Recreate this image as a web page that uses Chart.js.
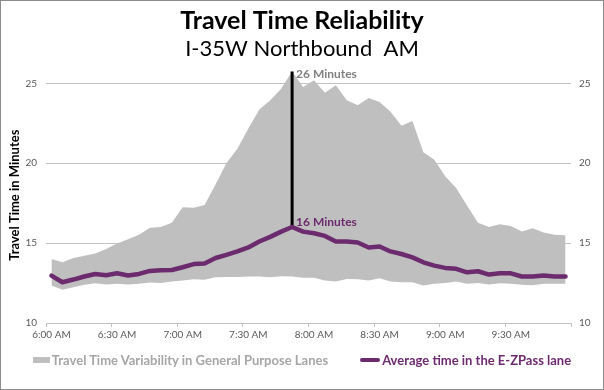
<!DOCTYPE html>
<html><head><meta charset="utf-8">
<script src="https://cdn.jsdelivr.net/npm/chart.js@4.4.1/dist/chart.umd.min.js"></script>
<style>
html,body{margin:0;padding:0;background:#fff;}
#wrap{position:relative;width:604px;height:390px;overflow:hidden;}
canvas{display:block;position:absolute;left:0;top:0;}
#legend{position:absolute;left:0;top:352px;width:604px;display:flex;justify-content:center;align-items:center;gap:32px;font-family:Lato,sans-serif;font-weight:bold;font-size:13px;white-space:pre;}
.item{display:flex;align-items:center;}
.sw{display:inline-block;margin-right:2px;}
</style></head><body>
<div id="wrap"><canvas id="c" width="604" height="390"></canvas><div id="legend"></div></div>
<script>
// ---- data ----
const times = ['6:00 AM','6:05 AM','6:10 AM','6:15 AM','6:20 AM','6:25 AM','6:30 AM','6:35 AM','6:40 AM','6:45 AM','6:50 AM','6:55 AM',
  '7:00 AM','7:05 AM','7:10 AM','7:15 AM','7:20 AM','7:25 AM','7:30 AM','7:35 AM','7:40 AM','7:45 AM','7:50 AM','7:55 AM',
  '8:00 AM','8:05 AM','8:10 AM','8:15 AM','8:20 AM','8:25 AM','8:30 AM','8:35 AM','8:40 AM','8:45 AM','8:50 AM','8:55 AM',
  '9:00 AM','9:05 AM','9:10 AM','9:15 AM','9:20 AM','9:25 AM','9:30 AM','9:35 AM','9:40 AM','9:45 AM','9:50 AM','9:55 AM'];
const gpUpper = [14.00,13.80,14.07,14.21,14.35,14.63,14.98,15.25,15.52,15.97,16.01,16.28,17.25,17.21,17.38,18.67,20.01,20.90,22.18,23.36,23.94,24.66,25.75,24.77,
  25.19,24.42,24.88,23.94,23.63,24.09,23.84,23.22,22.35,22.64,20.69,20.22,19.18,18.45,17.34,16.28,16.01,16.18,16.07,15.72,15.93,15.66,15.52,15.50];
const gpLower = [12.35,12.08,12.24,12.39,12.49,12.41,12.45,12.41,12.45,12.53,12.51,12.60,12.66,12.74,12.70,12.86,12.88,12.88,12.91,12.91,12.86,12.93,12.91,12.83,
  12.83,12.66,12.60,12.76,12.74,12.66,12.80,12.60,12.55,12.55,12.35,12.45,12.51,12.60,12.45,12.51,12.41,12.49,12.45,12.39,12.37,12.45,12.45,12.45];
const ezpass = [12.97,12.55,12.72,12.91,13.07,12.99,13.11,12.97,13.07,13.26,13.30,13.32,13.49,13.69,13.73,14.07,14.27,14.48,14.73,15.10,15.39,15.72,16.01,15.72,
  15.62,15.45,15.10,15.10,15.04,14.73,14.79,14.48,14.32,14.11,13.80,13.59,13.45,13.39,13.17,13.24,13.03,13.11,13.11,12.91,12.91,12.97,12.91,12.91];
const yTicks = [10, 15, 20, 25];
const seriesNames = ['Travel Time Variability in General Purpose Lanes', 'Average time in the E-ZPass lane'];
const titleText = 'Travel Time Reliability';
const subtitleText = 'I-35W Northbound  AM';
const yTitle = 'Travel Time in Minutes';

// ---- styles ----
const PURPLE = '#6D2B6F', GRAY = '#BFBFBF', AXIS = '#C3C3C3', TXT = '#595959';
const peakIdx = gpUpper.indexOf(Math.max(...gpUpper));

const callout = {
  id: 'callout',
  afterDatasetsDraw(chart) {
    const {ctx, scales: {x, y}} = chart;
    const px = x.getPixelForValue(peakIdx);
    ctx.save();
    ctx.font = 'bold 12px Lato';
    ctx.textBaseline = 'middle';
    ctx.textAlign = 'left';
    ctx.fillStyle = '#808080';
    ctx.fillText(Math.round(gpUpper[peakIdx]) + ' Minutes', px + 4, y.getPixelForValue(gpUpper[peakIdx]) + 3);
    ctx.fillStyle = PURPLE;
    ctx.fillText(Math.round(ezpass[peakIdx]) + ' Minutes', px + 4, y.getPixelForValue(ezpass[peakIdx]) - 5);
    ctx.restore();
  },
  afterDraw(chart) {
    const ctx = chart.ctx;
    ctx.save();
    ctx.strokeStyle = '#8C8C8C';
    ctx.lineWidth = 1;
    ctx.strokeRect(0.5, 0.5, chart.width - 1, chart.height - 1);
    ctx.restore();
  }
};

const tickFont = {family: 'Lato', size: 10};
const chart = new Chart(document.getElementById('c'), {
  type: 'line',
  data: {
    labels: times,
    datasets: [
      {label: seriesNames[1], data: ezpass, borderColor: PURPLE, backgroundColor: PURPLE, borderWidth: 4.5, pointRadius: 0, fill: false, tension: 0, borderJoinStyle: 'round', borderCapStyle: 'round'},
      {label: 'peak', data: [{x: times[peakIdx], y: ezpass[peakIdx]}, {x: times[peakIdx], y: gpUpper[peakIdx]}], borderColor: '#000', borderWidth: 3, pointRadius: 0, fill: false},
      {label: seriesNames[0], data: gpUpper, borderWidth: 0, borderColor: GRAY, backgroundColor: GRAY, pointRadius: 0, fill: '+1', tension: 0},
      {label: 'lower', data: gpLower, borderWidth: 0, borderColor: GRAY, backgroundColor: GRAY, pointRadius: 0, fill: false, tension: 0}
    ]
  },
  options: {
    responsive: false, animation: false, devicePixelRatio: 1,
    layout: {padding: {top: 0, bottom: 47, left: 0, right: 0}},
    plugins: {
      legend: {display: false},
      tooltip: {enabled: false},
      title: {display: true, text: titleText, color: '#000', font: {family: 'Lato', size: 25, weight: 'bold'}, padding: {top: 6, bottom: 0}},
      subtitle: {display: true, text: subtitleText, color: '#000', font: {family: 'Lato', size: 22, weight: 'normal'}, padding: {top: 0, bottom: 5}}
    },
    scales: {
      x: {
        offset: true,
        afterFit(s) { s.height = 20; },
        grid: {offset: true, drawOnChartArea: false, tickLength: 4,
          color: ctx => (ctx.type !== 'tick' || ctx.index % 6 === 0) ? AXIS : 'rgba(0,0,0,0)'},
        border: {color: AXIS},
        ticks: {autoSkip: false, maxRotation: 0, minRotation: 0, padding: 2, color: TXT, font: tickFont,
          callback: (v, i) => (i % 6 === 0 ? times[i] : '')}
      },
      y: {
        position: 'left', min: 10, max: 26,
        afterBuildTicks(s) { s.ticks = yTicks.map(v => ({value: v})); },
        afterFit(s) { s.width = 46; },
        grid: {color: AXIS, drawTicks: false},
        border: {display: false},
        ticks: {padding: 9, color: TXT, font: tickFont},
        title: {display: true, text: yTitle, color: '#000', font: {family: 'Lato', size: 13, weight: 'bold'}, padding: {top: 7, bottom: 0}}
      },
      y2: {
        position: 'right', min: 10, max: 26,
        afterBuildTicks(s) { s.ticks = yTicks.map(v => ({value: v})); },
        afterFit(s) { s.width = 33; },
        grid: {drawOnChartArea: false, drawTicks: false},
        border: {display: false},
        ticks: {padding: 8, color: TXT, font: tickFont}
      }
    }
  },
  plugins: [callout]
});

// HTML legend built from the datasets
const legend = document.getElementById('legend');
[{ds: chart.data.datasets[2], w: 17, h: 6, r: 0, txt: '#A6A6A6'},
 {ds: chart.data.datasets[0], w: 20, h: 4, r: 2, txt: PURPLE}].forEach(it => {
  const d = document.createElement('div'); d.className = 'item';
  const sw = document.createElement('span'); sw.className = 'sw';
  sw.style.width = it.w + 'px'; sw.style.height = it.h + 'px'; sw.style.background = it.ds.backgroundColor; sw.style.borderRadius = it.r + 'px';
  const t = document.createElement('span'); t.textContent = it.ds.label; t.style.color = it.txt;
  d.appendChild(sw); d.appendChild(t); legend.appendChild(d);
});
</script>
</body></html>
